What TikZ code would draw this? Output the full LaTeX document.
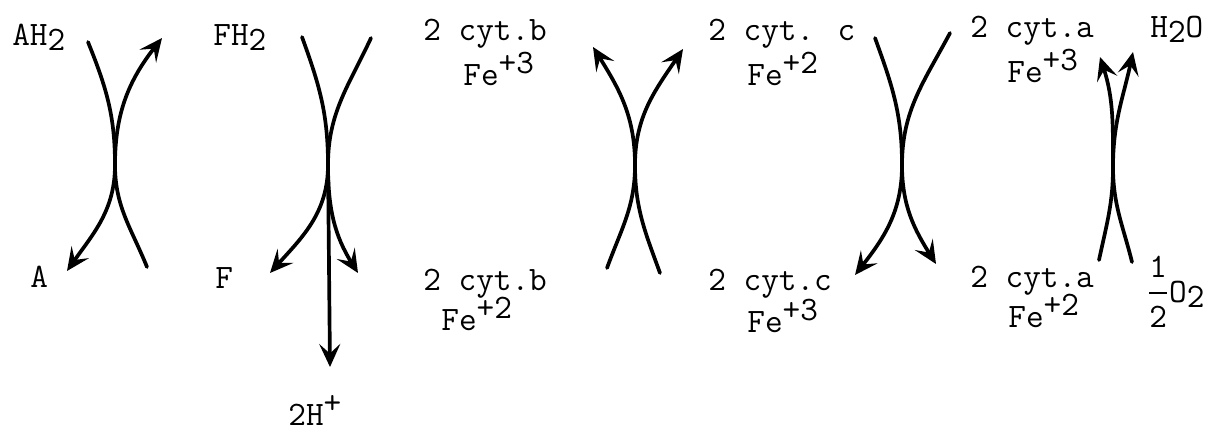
\documentclass[tikz,border=0pt]{standalone}
\usepackage{amsmath}
\usepackage{tikz}
\usetikzlibrary{arrows.meta}
\newcommand{\lowr}[1]{\raisebox{-0.4ex}{#1}}
\newcommand{\highr}[1]{\raisebox{0.75ex}{#1}}

\begin{document}
\begin{tikzpicture}[x=0.02cm, y=0.02cm, font=\ttfamily\fontsize{19.5}{22}\selectfont,
    lbl/.style={anchor=base west, inner sep=0pt},
    rxn/.style={line width=2.1pt, line cap=round,
      -{Stealth[length=4.6mm, width=4.2mm, inset=1.9mm]}}]
  \useasboundingbox (0,0) rectangle (1212,-433);
  % texts
  \node[lbl] (ah) at (12,-45) {AH\lowr{2}};
  \node[lbl] (a) at (30,-287) {A};
  \node[lbl] (fh) at (213,-45) {FH\lowr{2}};
  \node[lbl] (f) at (215,-288) {F};
  \node[lbl] (hp) at (288,-425) {2H\highr{+}};
  \node[lbl] (cbox) at (423,-40) {2 cyt.b};
  \node[lbl] (cboxfe) at (463,-85) {Fe\highr{+3}};
  \node[lbl] (cbred) at (423,-290) {2 cyt.b};
  \node[lbl] (cbredfe) at (441,-330) {Fe\highr{+2}};
  \node[lbl] (ccred) at (708,-40) {2 cyt. c};
  \node[lbl] (ccredfe) at (747,-85) {Fe\highr{+2}};
  \node[lbl] (ccox) at (708,-290) {2 cyt.c};
  \node[lbl] (ccoxfe) at (747,-332) {Fe\highr{+3}};
  \node[lbl] (caox) at (970,-37) {2 cyt.a};
  \node[lbl] (caoxfe) at (1007,-82) {Fe\highr{+3}};
  \node[lbl] (cared) at (970,-287) {2 cyt.a};
  \node[lbl] (caredfe) at (1008,-327) {Fe\highr{+2}};
  \node[lbl] (wat) at (1150,-37) {H\lowr{2}O};
  \node[lbl] (oxy) at (1147,-302) {$\genfrac{}{}{1pt}{0}{\hbox{1}}{\hbox{2}}$O\lowr{2}};
  % curve ends and touching points
  \foreach \n/\x/\y in {a1s/88/42, a1e/67/271, b1s/147/267, b1e/162/38, m1/115/165,
      a2s/302/37, a2e/270/273, b2s/371/38, b2e/358/273, m2/328/165, h2/330/367,
      a3s/607/268, a3e/593/47, b3s/660/273, b3e/683/49, m3/635/165,
      a4s/875/38, a4e/855/275, b4s/950/33, b4e/936/264, m4/902/165,
      a5s/1099/260, a5e/1100/57, b5s/1132/262, b5e/1133/52, m5/1113/167}
    \coordinate (\n) at (\x,-\y);
  \draw[rxn] (a1s) to[out=-68,in=90] (m1) to[out=-90,in=55] (a1e);
  \draw[rxn] (b1s) to[out=112,in=-90] (m1) to[out=90,in=-128] (b1e);
  \draw[rxn] (a2s) to[out=-70,in=90] (m2) to[out=-90,in=48] (a2e);
  \draw[rxn] (b2s) to[out=-115,in=90] (m2) to[out=-90,in=122] (b2e);
  \draw[rxn] (m2) -- (h2);
  \draw[rxn] (a3s) to[out=70,in=-90] (m3) to[out=90,in=-58] (a3e);
  \draw[rxn] (b3s) to[out=110,in=-90] (m3) to[out=90,in=-124] (b3e);
  \draw[rxn] (a4s) to[out=-70,in=90] (m4) to[out=-90,in=52] (a4e);
  \draw[rxn] (b4s) to[out=-118,in=90] (m4) to[out=-90,in=122] (b4e);
  \draw[rxn] (a5s) to[out=78,in=-90] (m5) to[out=90,in=-72] (a5e);
  \draw[rxn] (b5s) to[out=104,in=-90] (m5) to[out=90,in=-102] (b5e);
\end{tikzpicture}
\end{document}
